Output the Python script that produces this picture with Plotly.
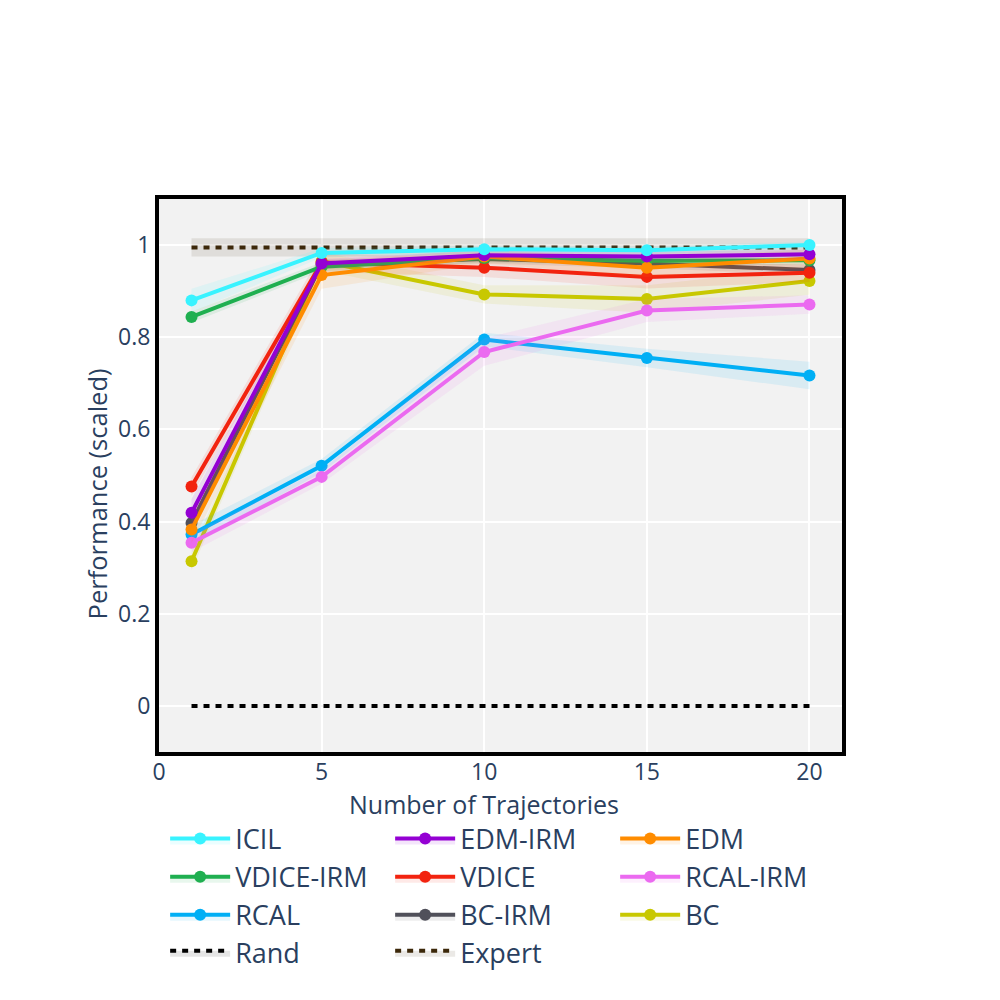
import plotly.graph_objects as go

x_traj = [1, 5, 10, 15, 20]

names = ["ICIL", "EDM-IRM", "EDM", "VDICE-IRM", "VDICE", "RCAL-IRM",
         "RCAL", "BC-IRM", "BC", "Rand", "Expert"]

colors = {
    "ICIL": "#38F3FF",
    "EDM-IRM": "#9400D3",
    "EDM": "#FF8C00",
    "VDICE-IRM": "#1FAF50",
    "VDICE": "#F2230F",
    "RCAL-IRM": "#EB6AF0",
    "RCAL": "#00AFF5",
    "BC-IRM": "#50505A",
    "BC": "#C8C800",
    "Rand": "#000000",
    "Expert": "#3C280A",
}

icil_mean = [0.880, 0.983, 0.991, 0.989, 1.000]
icil_std = [0.025, 0.010, 0.008, 0.008, 0.008]
edm_irm_mean = [0.419, 0.960, 0.978, 0.975, 0.980]
edm_irm_std = [0.030, 0.010, 0.010, 0.010, 0.010]
edm_mean = [0.383, 0.935, 0.975, 0.951, 0.971]
edm_std = [0.030, 0.030, 0.015, 0.020, 0.020]
vdice_irm_mean = [0.844, 0.953, 0.972, 0.966, 0.967]
vdice_irm_std = [0.012, 0.010, 0.010, 0.010, 0.010]
vdice_mean = [0.476, 0.962, 0.951, 0.931, 0.940]
vdice_std = [0.020, 0.020, 0.020, 0.025, 0.020]
rcal_irm_mean = [0.354, 0.497, 0.768, 0.858, 0.871]
rcal_irm_std = [0.020, 0.015, 0.030, 0.025, 0.020]
rcal_mean = [0.372, 0.521, 0.795, 0.755, 0.717]
rcal_std = [0.020, 0.015, 0.015, 0.020, 0.030]
bc_irm_mean = [0.397, 0.958, 0.970, 0.960, 0.946]
bc_irm_std = [0.020, 0.010, 0.010, 0.010, 0.010]
bc_mean = [0.314, 0.965, 0.893, 0.883, 0.922]
bc_std = [0.020, 0.020, 0.020, 0.030, 0.030]
rand_mean = [0.0, 0.0, 0.0, 0.0, 0.0]
rand_std = [0.001, 0.001, 0.001, 0.001, 0.001]
expert_mean = [0.995, 0.995, 0.995, 0.995, 0.995]
expert_std = [0.020, 0.020, 0.020, 0.020, 0.020]

series = {
    "ICIL": (icil_mean, icil_std),
    "EDM-IRM": (edm_irm_mean, edm_irm_std),
    "EDM": (edm_mean, edm_std),
    "VDICE-IRM": (vdice_irm_mean, vdice_irm_std),
    "VDICE": (vdice_mean, vdice_std),
    "RCAL-IRM": (rcal_irm_mean, rcal_irm_std),
    "RCAL": (rcal_mean, rcal_std),
    "BC-IRM": (bc_irm_mean, bc_irm_std),
    "BC": (bc_mean, bc_std),
    "Rand": (rand_mean, rand_std),
    "Expert": (expert_mean, expert_std),
}

x_ticks = [0, 5, 10, 15, 20]
y_ticks = [0, 0.2, 0.4, 0.6, 0.8, 1]
x_title = "Number of Trajectories"
y_title = "Performance (scaled)"


def rgba(hexcol, a):
    h = hexcol.lstrip("#")
    r, g, b = int(h[0:2], 16), int(h[2:4], 16), int(h[4:6], 16)
    return f"rgba({r},{g},{b},{a})"


fig = go.Figure()

for name in reversed(names):
    mean, std = series[name]
    col = colors[name]
    upper = [m + s for m, s in zip(mean, std)]
    lower = [m - s for m, s in zip(mean, std)]
    fillc = rgba(col, 0.1)
    dotted = name in ("Rand", "Expert")
    fig.add_trace(go.Scatter(x=x_traj, y=upper, mode="lines",
                             line=dict(width=0, color=col),
                             showlegend=False, hoverinfo="skip"))
    if dotted:
        fig.add_trace(go.Scatter(x=x_traj, y=mean, name=name, mode="lines",
                                 line=dict(color=col, width=4, dash="6px,6px"),
                                 fill="tonexty", fillcolor=fillc))
    else:
        fig.add_trace(go.Scatter(x=x_traj, y=mean, name=name, mode="lines+markers",
                                 line=dict(color=col, width=4),
                                 marker=dict(size=12, color=col),
                                 fill="tonexty", fillcolor=fillc))
    fig.add_trace(go.Scatter(x=x_traj, y=lower, mode="lines",
                             line=dict(width=0, color=col),
                             fill="tonexty", fillcolor=fillc,
                             showlegend=False, hoverinfo="skip"))

font_family = "Open Sans"
txt_col = "#2a3f5f"
fig.update_layout(
    margin=dict(l=151, r=150, t=191, b=240),
    paper_bgcolor="white",
    plot_bgcolor="#f2f2f2",
    font=dict(family=font_family, size=23, color=txt_col),
    legend=dict(orientation="h", x=0.009, xanchor="left", y=-0.113, yanchor="top",
                traceorder="reversed", itemwidth=60, entrywidth=150,
                font=dict(size=27)),
    xaxis=dict(range=[0, 21], tickvals=x_ticks, ticklabelstandoff=-4,
               showline=True, linecolor="black", linewidth=4, mirror=True,
               gridcolor="white", gridwidth=2, zeroline=False, ticks=""),
    yaxis=dict(range=[-0.1, 1.1], tickvals=y_ticks,
               showline=True, linecolor="black", linewidth=4, mirror=True,
               gridcolor="white", gridwidth=2, zeroline=True,
               zerolinecolor="white", zerolinewidth=2, ticks=""),
)

fig.add_annotation(text=x_title, xref="x", x=10, yref="paper", y=0,
                   yshift=-52, xanchor="center", yanchor="middle",
                   showarrow=False, font=dict(size=25, color=txt_col))
fig.add_annotation(text=y_title, xref="paper", x=0, xshift=-62,
                   yref="y", y=0.459, xanchor="center", yanchor="middle",
                   textangle=-90, showarrow=False,
                   font=dict(size=25.5, color=txt_col))

fig.write_html("out.html")
